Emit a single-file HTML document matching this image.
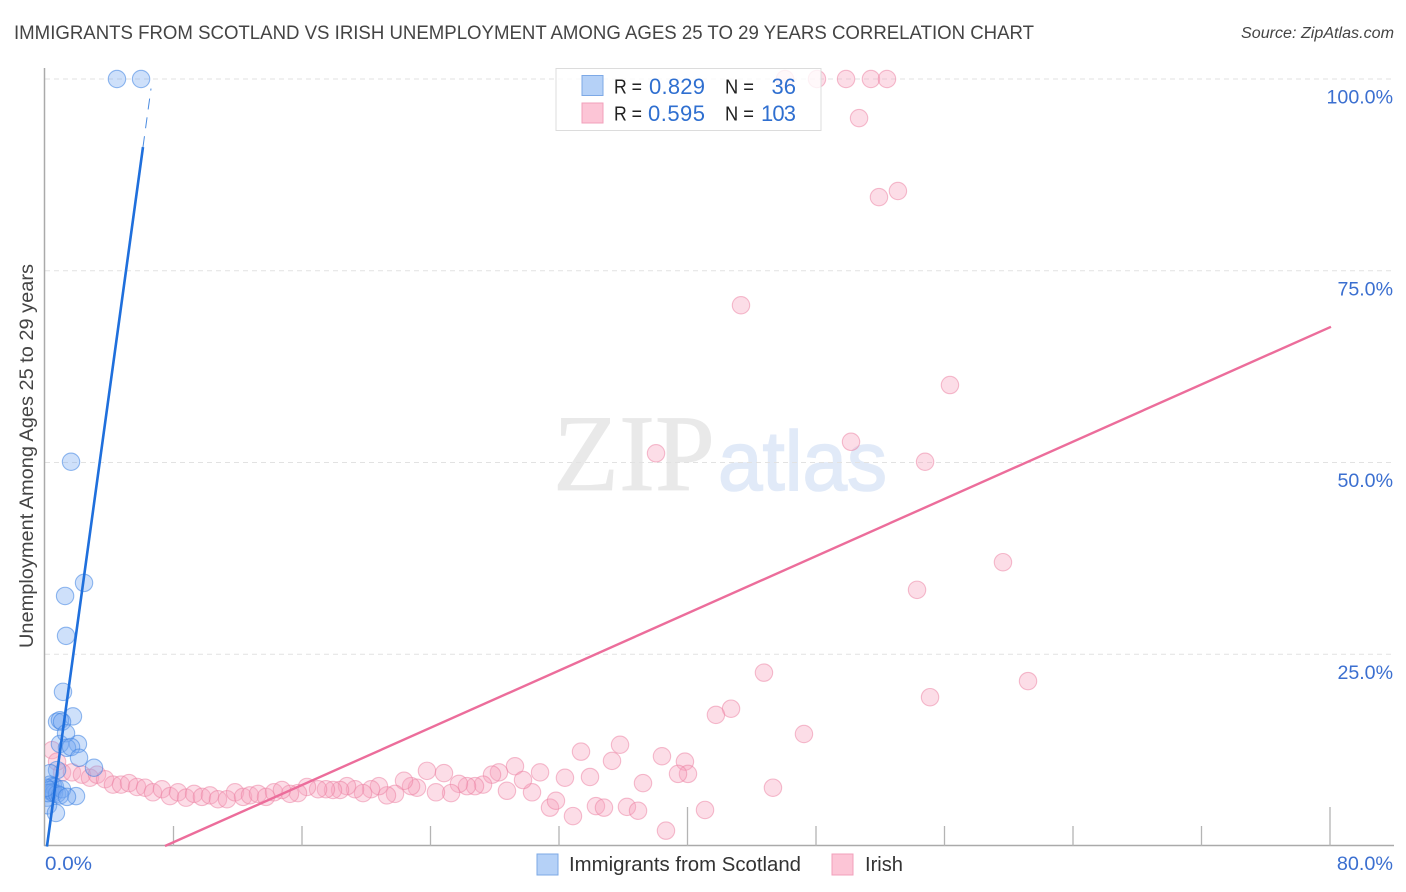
<!DOCTYPE html>
<html lang="en">
<head>
<meta charset="utf-8">
<title>Immigrants from Scotland vs Irish Unemployment Correlation Chart</title>
<style>
html,body{margin:0;padding:0;background:#fff;}
#chart-wrap{width:1406px;height:892px;overflow:hidden;}
svg{display:block;font-family:"Liberation Sans",sans-serif;}
</style>
</head>
<body>
<div id="chart-wrap">
<svg id="chart" width="1406" height="892" viewBox="0 0 1406 892" xmlns="http://www.w3.org/2000/svg">
  <defs>
    <clipPath id="plot-clip"><rect x="45" y="60" width="1349" height="786"></rect></clipPath>
  </defs>
  <text x="14" y="39" font-size="19" fill="#444" textLength="1020" lengthAdjust="spacingAndGlyphs">IMMIGRANTS FROM SCOTLAND VS IRISH UNEMPLOYMENT AMONG AGES 25 TO 29 YEARS CORRELATION CHART</text>
  <text x="1394" y="38" font-size="15.5" font-style="italic" fill="#444" text-anchor="end" textLength="153" lengthAdjust="spacingAndGlyphs">Source: ZipAtlas.com</text>
  <g>
    <text x="553" y="490" font-family="'Liberation Serif',serif" font-size="109" fill="#e9e9e9" stroke="#e9e9e9" stroke-width="0.8" textLength="162" lengthAdjust="spacingAndGlyphs">ZIP</text>
    <text x="718" y="490" font-size="84" fill="#e1eaf8" stroke="#e1eaf8" stroke-width="1.6" textLength="169" lengthAdjust="spacingAndGlyphs">atlas</text>
  </g>
  <g id="grid"></g>
  <g id="axes"></g>
  <g id="points-irish" clip-path="url(#plot-clip)"></g>
  <g id="points-scotland" clip-path="url(#plot-clip)"></g>
  <g id="trends"></g>
  <text transform="translate(33,456) rotate(-90)" font-size="19" fill="#444" text-anchor="middle" textLength="384" lengthAdjust="spacingAndGlyphs">Unemployment Among Ages 25 to 29 years</text>

  <g>
    <rect x="556" y="68.5" width="265" height="62" fill="#fff" fill-opacity="0.8" stroke="#dcdcdc" stroke-width="1"></rect>
    <rect x="582" y="75.5" width="21" height="20" fill="#b5d1f7" stroke="#7da9e6"></rect>
    <rect x="582" y="103" width="21" height="20" fill="#fcc5d6" stroke="#f2a0bb"></rect>
    <g font-size="20" fill="#222">
      <text x="614" y="93.5" textLength="28" lengthAdjust="spacingAndGlyphs">R =</text>
      <text x="725" y="93.5" textLength="29" lengthAdjust="spacingAndGlyphs">N =</text>
      <text x="614" y="120.5" textLength="28" lengthAdjust="spacingAndGlyphs">R =</text>
      <text x="725" y="120.5" textLength="29" lengthAdjust="spacingAndGlyphs">N =</text>
    </g>
    <g font-size="22" fill="#2f6fd0">
      <text x="649" y="94" textLength="56">0.829</text>
      <text x="796" y="94" text-anchor="end">36</text>
      <text x="648" y="121" textLength="57">0.595</text>
      <text x="796" y="121" text-anchor="end" textLength="35">103</text>
    </g>
  </g>

  <g>
    <rect x="537" y="854" width="21" height="21" fill="#b5d1f7" stroke="#7da9e6"></rect>
    <text x="569" y="871" font-size="20" fill="#333" textLength="232" lengthAdjust="spacingAndGlyphs">Immigrants from Scotland</text>
    <rect x="832" y="854" width="21" height="21" fill="#fcc5d6" stroke="#f2a0bb"></rect>
    <text x="865" y="871" font-size="20" fill="#333" textLength="38" lengthAdjust="spacingAndGlyphs">Irish</text>
  </g>
</svg>
</div>
<script>
// Axis domain and labels
const xDomain = [0, 80];
const yDomain = [0, 100];
const xTickValues = [8, 16, 24, 32, 40, 48, 56, 64, 72, 80];
const xMajorTicks = [40, 80];
const yGridValues = [25, 50, 75, 100];
const yTickLabels = ['25.0%', '50.0%', '75.0%', '100.0%'];
const xEdgeLabels = ['0.0%', '80.0%'];

// Series: Immigrants from Scotland (percent)
const scotlandX = [4.48,5.98,1.62,2.43,1.25,1.31,1.12,1.74,0.75,0.93,1.06,2.05,0.93,1.31,1.37,1.62,2.12,3.05,0.75,1.93,0.31,0.12,0.19,0.68,0.31,0.5,0.62,0.31,0.44,0.56,0.19,0.75,1.06,0.93,1.37,0.06];
const scotlandY = [100,100,50.1,34.3,32.6,27.4,20.1,16.9,16.2,16.4,16.2,13.3,13.3,14.7,12.8,12.9,11.5,10.2,9.9,6.5,9.5,6.3,5.3,4.3,8.0,7.8,7.7,7.3,7.0,6.9,6.9,6.8,7.4,6.6,6.4,7.6];

// Series: Irish (percent)
const irishX = [46.07,48.06,49.87,51.42,52.42,50.68,51.92,53.1,43.33,56.34,38.04,50.18,54.79,59.64,54.29,44.76,61.2,55.1,42.71,41.77,47.25,35.8,33.37,38.41,39.84,35.3,40.03,39.41,29.26,28.26,27.83,23.78,24.84,30.82,32.37,33.93,37.23,45.32,41.09,38.66,32.87,31.44,31.81,34.3,34.8,36.23,36.92,30.32,29.76,28.76,27.27,26.77,26.27,25.77,25.28,24.34,23.16,22.79,22.35,21.79,21.29,20.79,20.3,19.8,19.3,18.8,18.37,17.93,17.49,17.0,16.31,15.75,15.25,0.44,0.75,1.06,1.68,2.3,2.8,3.24,3.74,4.23,4.73,5.23,5.73,6.23,6.72,7.28,7.78,8.28,8.78,9.28,9.77,10.27,10.77,11.33,11.83,12.33,12.76,13.26,13.76,14.26,14.75];
const irishY = [100,100,100,100,100,94.9,84.6,85.4,70.5,60.1,51.2,52.7,50.1,37.0,33.4,22.6,21.5,19.4,17.9,17.1,14.6,13.2,12.3,11.7,11.0,11.1,9.4,9.4,10.4,9.6,9.3,9.8,9.5,9.6,8.9,9.0,8.2,7.6,4.7,2.0,3.9,5.0,5.9,5.2,5.0,5.1,4.6,7.0,8.6,7.2,8.0,7.8,7.8,8.1,6.9,7.0,7.6,7.8,8.5,6.8,6.6,7.8,7.4,6.9,7.4,7.8,7.3,7.3,7.4,7.4,7.7,6.9,6.8,12.5,11.0,9.6,9.6,9.3,8.9,9.3,8.7,8.0,8.0,8.2,7.7,7.6,7.0,7.4,6.5,7.0,6.3,6.8,6.4,6.6,6.1,6.1,7.0,6.4,6.6,6.8,6.4,7.0,7.3];

// Trend lines: intercept, slope and x-extent (percent)
const scotlandTrend = { intercept: -1.9, slope: 15.25, xStart: 0.12, xSolidEnd: 6.1, xDashEnd: 6.6 };
const irishTrend = { intercept: -6.97, slope: 0.9326, xStart: 7.47, xEnd: 80.06 };

const SVG_NS = 'http://www.w3.org/2000/svg';
const xScale = v => 45 + (v - xDomain[0]) / (xDomain[1] - xDomain[0]) * 1285;
const yScale = v => 846 - (v - yDomain[0]) / (yDomain[1] - yDomain[0]) * 767;

function make(tag, parent, attrs, text) {
  const el = document.createElementNS(SVG_NS, tag);
  Object.keys(attrs).forEach(k => el.setAttribute(k, attrs[k]));
  if (text !== undefined) el.textContent = text;
  parent.appendChild(el);
  return el;
}

const gridG = document.getElementById('grid');
const axesG = document.getElementById('axes');
const irishG = document.getElementById('points-irish');
const scotlandG = document.getElementById('points-scotland');
const trendG = document.getElementById('trends');

yGridValues.forEach((v, i) => {
  const line = make('line', gridG, { x1: 45, x2: 1394, y1: yScale(v), y2: yScale(v), stroke: '#e2e2e2', 'stroke-width': 1, 'stroke-dasharray': '5 4' });
  
  
  const label = make('text', axesG, { x: 1393, y: yScale(v) + 24.5, 'font-size': 19.6, fill: '#3b6fd0', 'text-anchor': 'end' }, yTickLabels[i]);
  
  
});

const yAxisLine = make('line', axesG, { x1: 44.5, x2: 44.5, y1: 68, y2: 846, stroke: '#aaa', 'stroke-width': 1.5 });


const xAxisLine = make('line', axesG, { x1: 44, x2: 1394, y1: 845.5, y2: 845.5, stroke: '#aaa', 'stroke-width': 1.5 });



xTickValues.forEach(v => {
  const top = xMajorTicks.includes(v) ? 807 : 826;
  const tick = make('line', axesG, { x1: xScale(v), x2: xScale(v), y1: top, y2: 846, stroke: '#b4b4b4', 'stroke-width': 1.3 });
  
  
});

const xLabelMin = make('text', axesG, { x: 45, y: 870, 'font-size': 19.8, fill: '#3b6fd0', textLength: 47, lengthAdjust: 'spacingAndGlyphs' }, xEdgeLabels[0]);


const xLabelMax = make('text', axesG, { x: 1393, y: 870, 'font-size': 19.8, fill: '#3b6fd0', 'text-anchor': 'end' }, xEdgeLabels[1]);



irishX.forEach((x, i) => {
  const c = make('circle', irishG, { cx: xScale(x), cy: yScale(irishY[i]), r: 8.7, fill: 'rgba(248,160,188,0.36)', stroke: 'rgba(236,125,160,0.5)', 'stroke-width': 1.1 });
  
  
});

scotlandX.forEach((x, i) => {
  const c = make('circle', scotlandG, { cx: xScale(x), cy: yScale(scotlandY[i]), r: 8.7, fill: 'rgba(120,170,240,0.36)', stroke: 'rgba(60,130,225,0.55)', 'stroke-width': 1.1 });
  
  
});

const trendValue = (t, x) => t.intercept + t.slope * x;

const scotlandSolid = make('line', trendG, {
  x1: xScale(scotlandTrend.xStart), y1: yScale(trendValue(scotlandTrend, scotlandTrend.xStart)),
  x2: xScale(scotlandTrend.xSolidEnd), y2: yScale(trendValue(scotlandTrend, scotlandTrend.xSolidEnd)),
  stroke: '#1f6fdc', 'stroke-width': 2.6
});



const scotlandDash = make('line', trendG, {
  x1: xScale(scotlandTrend.xSolidEnd), y1: yScale(trendValue(scotlandTrend, scotlandTrend.xSolidEnd)),
  x2: xScale(scotlandTrend.xDashEnd), y2: yScale(trendValue(scotlandTrend, scotlandTrend.xDashEnd)),
  stroke: '#4a8be0', 'stroke-width': 1, 'stroke-dasharray': '11 8'
});



const irishLine = make('line', trendG, {
  x1: xScale(irishTrend.xStart), y1: yScale(trendValue(irishTrend, irishTrend.xStart)),
  x2: xScale(irishTrend.xEnd), y2: yScale(trendValue(irishTrend, irishTrend.xEnd)),
  stroke: '#ec6d9b', 'stroke-width': 2.4
});


</script>
</body>
</html>
